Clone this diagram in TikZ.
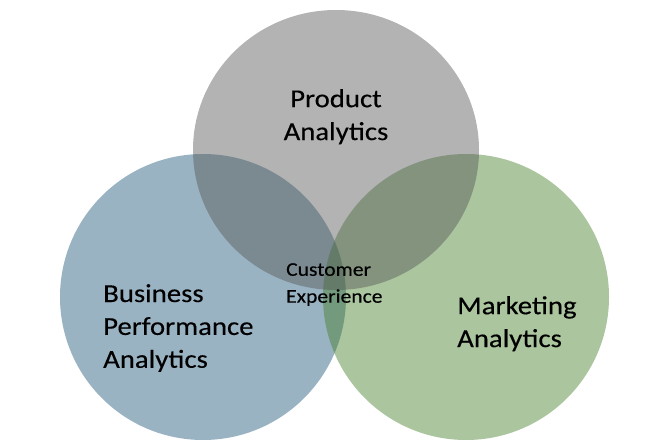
\documentclass[tikz,border=0pt]{standalone}
\usepackage{fontspec}
\setmainfont{Carlito}[FakeStretch=1.11,FakeBold=0.3]
\usepackage{tikz}
\usetikzlibrary{positioning}
\definecolor{prodgray}{RGB}{86,86,86}
\definecolor{bpablue}{RGB}{31,86,122}
\definecolor{mktgreen}{RGB}{68,126,39}

\begin{document}
\begin{tikzpicture}[x=1bp,y=-1bp,
    setcircle/.style={fill opacity=0.45},
    biglabel/.style={align=left,inner sep=0pt,font=\fontsize{26}{33}\selectfont},
    smalllabel/.style={align=left,inner sep=0pt,font=\fontsize{19.5}{27}\selectfont}]
\useasboundingbox (0,0) rectangle (664,446);

\fill[setcircle,bpablue] (203,297) ellipse [x radius=143, y radius=143];
\fill[setcircle,mktgreen] (466,297) ellipse [x radius=143, y radius=143];
\fill[setcircle,prodgray] (336,150) ellipse [x radius=143, y radius=140];

\node[biglabel,anchor=north,align=center] (prod) at (336,89) {Product\\Analytics};
\node[biglabel,anchor=north west] (bpa) at (103,284) {Business\\Performance\\Analytics};
\node[biglabel,anchor=north west] (mkt) at (457,296) {Marketing\\Analytics};
\node[smalllabel,anchor=north west] (cx) at (286,263) {Customer\\Experience};

\end{tikzpicture}
\end{document}
